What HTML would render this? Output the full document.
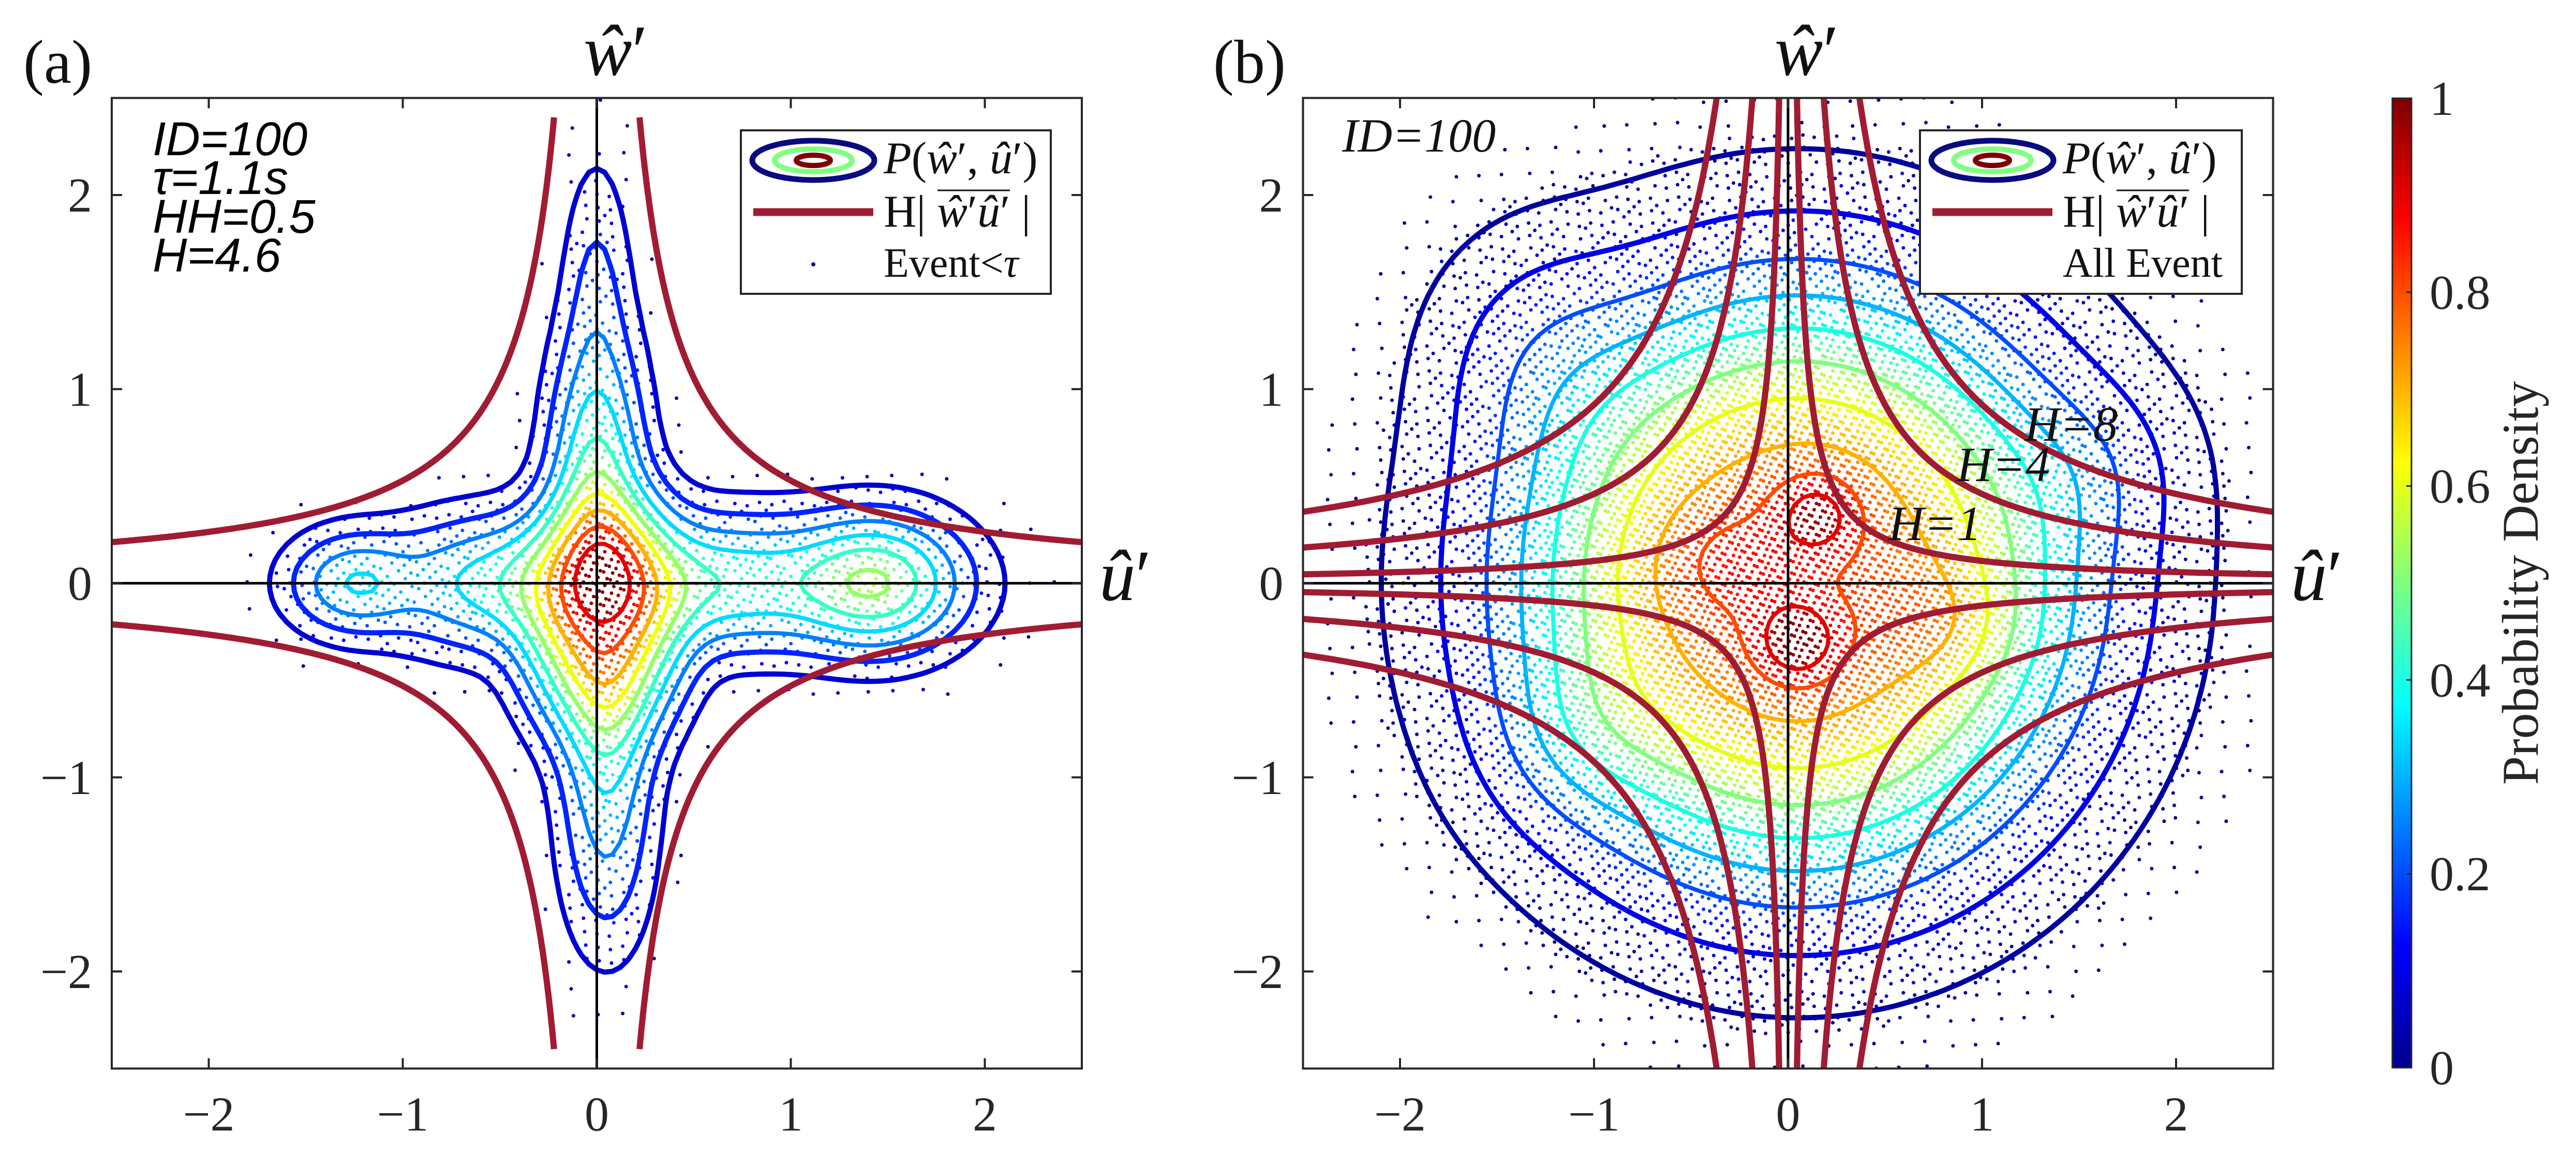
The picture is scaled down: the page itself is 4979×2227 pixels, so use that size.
<!DOCTYPE html>
<html><head><meta charset="utf-8"><style>
html,body{margin:0;padding:0;background:#fff;}
svg{display:block;}
.tk{font-family:"Liberation Serif",serif;font-size:94px;fill:#262626;}
</style></head><body>
<svg id="fig" xmlns="http://www.w3.org/2000/svg" width="4979" height="2227" viewBox="0 0 4979 2227">
<defs>
<clipPath id="clipA"><rect x="216" y="190" width="1875" height="1874"/></clipPath>
<clipPath id="clipB"><rect x="2518" y="190" width="1876" height="1874"/></clipPath>
<linearGradient id="jetGrad" x1="0" y1="1" x2="0" y2="0">
<stop offset="0" stop-color="#00008f"/><stop offset="0.125" stop-color="#0000ff"/><stop offset="0.375" stop-color="#00ffff"/><stop offset="0.625" stop-color="#ffff00"/><stop offset="0.875" stop-color="#ff0000"/><stop offset="1" stop-color="#800000"/>
</linearGradient>
</defs>
<g id="panelA"></g>
<g id="panelB"></g>
<g id="cbar"></g>
</svg>
<script>
// ---- data ----
const ticks = [-2, -1, 0, 1, 2];
const cbTicks = [0, 0.2, 0.4, 0.6, 0.8, 1];
const levelsA = [0.08, 0.16, 0.25, 0.34, 0.43, 0.52, 0.61, 0.7, 0.8, 0.9];
const levelsB = [0.03, 0.1, 0.2, 0.3, 0.4, 0.5, 0.6, 0.7, 0.8, 0.9];
// panel a density components: centre u, centre w, sigma u, sigma w, weight, shape exponent
const compAu = [0.03, 0.6, 1.45, -0.5, -1.25, 0.0, 0.05, 0.0, 0.05, 0.05];
const compAw = [-0.15, 0.0, 0.0, 0.0, 0.0, 0.5, -0.7, 1.5, -1.4, 0.1];
const compAsu = [0.28, 0.55, 0.25, 0.35, 0.2, 0.14, 0.14, 0.1, 0.14, 0.15];
const compAsw = [0.42, 0.2, 0.2, 0.2, 0.15, 0.45, 0.4, 0.4, 0.35, 0.2];
const compAwt = [1.0, 0.45, 0.55, 0.35, 0.3, 0.5, 0.35, 0.1, 0.12, 0.3];
const compAp = [1.3, 1, 1, 1, 1, 1, 1, 1, 1, 1];
const gammaA = 0.6;
// panel b density components
const compBu = [0.05, 0.15, 0.05, -1.3, 1.6, -1.1, -0.3, 0.8];
const compBw = [0.0, 0.35, -0.3, 1.2, 0.6, -0.8, 0.1, -0.2];
const compBsu = [1.15, 0.15, 0.15, 0.35, 0.3, 0.3, 0.25, 0.25];
const compBsw = [1.2, 0.15, 0.15, 0.4, 0.3, 0.3, 0.2, 0.2];
const compBwt = [1.0, 0.25, 0.3, 0.12, 0.08, 0.1, 0.1, 0.08];
const compBp = [1.5, 1, 1, 1, 1, 1, 1, 1];
const gammaB = 1.0;
// hyperbola multipliers H and mean |w'u'|
const meanWU = 0.115;
const hA = [4.6];
const hB = [1, 4, 8];
const hLabels = ["H=1", "H=4", "H=8"];

const NS = "http://www.w3.org/2000/svg";
function mk(tag, attrs, parent){const e=document.createElementNS(NS,tag);for(const k in attrs)e.setAttribute(k,attrs[k]);if(parent)parent.appendChild(e);return e;}
function jet(v){const c=x=>Math.max(0,Math.min(1,x));const r=c(1.5-Math.abs(4*v-3)),g=c(1.5-Math.abs(4*v-2)),b=c(1.5-Math.abs(4*v-1));return `rgb(${Math.round(r*255)},${Math.round(g*255)},${Math.round(b*255)})`;}

function buildPanel(root, x0, clipId, cu, cw, csu, csw, cwt, cp, gam, levels, hs, wLimit, dotMode){
  const unitX=375, unitY=375.25, y0=1127.5;
  const X=u=>x0+u*unitX, Y=w=>y0-w*unitY;
  const left=X(-2.5), right=X(2.5), top=Y(2.5), bot=Y(-2.5);
  const step=0.04, n=126, umin=-2.52;
  const g=[]; let mx=0;
  for(let j=0;j<n;j++){g.push([]);for(let i=0;i<n;i++){const u=umin+i*step,w=umin+j*step;let s=0;for(let k=0;k<cu.length;k++){const du=(u-cu[k])/csu[k],dw=(w-cw[k])/csw[k];s+=cwt[k]*Math.exp(-0.5*Math.pow(du*du+dw*dw,cp[k]));}g[j].push(s);if(s>mx)mx=s;}}
  for(let j=0;j<n;j++)for(let i=0;i<n;i++)g[j][i]=Math.pow(g[j][i]/mx,gam);
  const dens=(u,w)=>{const fi=(u-umin)/step,fj=(w-umin)/step;const i=Math.max(0,Math.min(n-2,Math.floor(fi))),j=Math.max(0,Math.min(n-2,Math.floor(fj)));const tx=fi-i,ty=fj-j;return g[j][i]*(1-tx)*(1-ty)+g[j][i+1]*tx*(1-ty)+g[j+1][i]*(1-tx)*ty+g[j+1][i+1]*tx*ty;};
  const clipG=mk('g',{'clip-path':`url(#${clipId})`},root);
  
  
  const dots=mk('g',{},clipG);
  
  
  const bay=[[0,32,8,40,2,34,10,42],[48,16,56,24,50,18,58,26],[12,44,4,36,14,46,6,38],[60,28,52,20,62,30,54,22],[3,35,11,43,1,33,9,41],[51,19,59,27,49,17,57,25],[15,47,7,39,13,45,5,37],[63,31,55,23,61,29,53,21]];
  const sp = dotMode==='all'?12:13;
  let buf={};
  for(let py=top+4, jj=0; py<bot; py+=sp, jj++){for(let px=left+4, ii=0; px<right; px+=sp, ii++){
    const jx=((ii*7+jj*13)%5-2)*2.2, jy=((ii*11+jj*5)%5-2)*2.2;
    const u=(px+jx-x0)/unitX, w=(y0-(py+jy))/unitY; const d=dens(u,w);
    let p = dotMode==='all' ? (d>0.02?Math.min(1,0.25+1.3*d):(d>0.004?0.07:0)) : (d>0.08?Math.min(1,0.15+1.2*d):(d>0.02?0.05:0));
    const th=(bay[jj%8][ii%8]+0.5)/64;
    if(p>th){const col=jet(Math.min(1,d*1.03));(buf[col]=buf[col]||[]).push(`M${(px+jx).toFixed(1)} ${(py+jy).toFixed(1)}h0`);}
  }}
  for(const col in buf){mk('path',{d:buf[col].join(''),stroke:col,'stroke-width':7,'stroke-linecap':'round',fill:'none'},dots);}
  const cg=mk('g',{fill:'none','stroke-linecap':'round','stroke-linejoin':'round'},clipG);
  
  
  levels.forEach((lv,li)=>{
    let d='';
    const P=(i,j,i2,j2)=>{const v1=g[j][i],v2=g[j2][i2];const t=(lv-v1)/(v2-v1);const u=umin+(i+(i2-i)*t)*step,w=umin+(j+(j2-j)*t)*step;return X(u).toFixed(1)+' '+Y(w).toFixed(1);};
    for(let j=0;j<n-1;j++)for(let i=0;i<n-1;i++){
      const a=g[j][i]>lv?1:0,b=g[j][i+1]>lv?2:0,c=g[j+1][i+1]>lv?4:0,e=g[j+1][i]>lv?8:0;const cs=a|b|c|e;if(cs===0||cs===15)continue;
      const ab=()=>P(i,j,i+1,j),bc=()=>P(i+1,j,i+1,j+1),cd=()=>P(i+1,j+1,i,j+1),da=()=>P(i,j+1,i,j);
      const seg=(p,q)=>{d+='M'+p+'L'+q;};
      switch(cs){case 1:case 14:seg(da(),ab());break;case 2:case 13:seg(ab(),bc());break;case 3:case 12:seg(da(),bc());break;case 4:case 11:seg(bc(),cd());break;case 6:case 9:seg(ab(),cd());break;case 7:case 8:seg(da(),cd());break;case 5:seg(da(),ab());seg(bc(),cd());break;case 10:seg(ab(),bc());seg(cd(),da());break;}
    }
    const p=mk('path',{d:d,stroke:jet(lv),'stroke-width':li<2?10:8},cg);
    
    
  });
  const ax=mk('g',{stroke:'#000','stroke-width':5},clipG);
  
  
  mk('line',{x1:left,y1:Y(0),x2:right,y2:Y(0)},ax);
  mk('line',{x1:X(0),y1:top,x2:X(0),y2:bot},ax);
  const hg=mk('g',{fill:'none',stroke:'#a01c33','stroke-width':12},clipG);
  
  
  hs.forEach(H=>{const c=H*meanWU;[[1,1],[1,-1],[-1,1],[-1,-1]].forEach(([su,sw])=>{
    let pts=[];const u0=c/wLimit;for(let k=0;k<=300;k++){const u=u0*Math.pow(2.6/u0,k/300);pts.push(X(su*u).toFixed(1)+','+Y(sw*c/u).toFixed(1));}
    const pl=mk('polyline',{points:pts.join(' ')},hg);
    
    
  });});
  const bx=mk('g',{stroke:'#262626','stroke-width':4,fill:'none'},root);
  
  
  mk('rect',{x:left,y:top,width:right-left,height:bot-top},bx);
  ticks.forEach(t=>{
    mk('line',{x1:X(t),y1:bot,x2:X(t),y2:bot-20},bx);mk('line',{x1:X(t),y1:top,x2:X(t),y2:top+20},bx);
    mk('line',{x1:left,y1:Y(t),x2:left+20,y2:Y(t)},bx);mk('line',{x1:right,y1:Y(t),x2:right-20,y2:Y(t)},bx);
    const lab=t<0?'\u2212'+(-t):''+t;
    const tx=mk('text',{x:X(t),y:bot+120,'text-anchor':'middle',class:'tk'},root);tx.textContent=lab;
    
    
    const ty=mk('text',{x:left-38,y:Y(t)+32,'text-anchor':'end',class:'tk'},root);ty.textContent=lab;
    
    
  });
}
buildPanel(document.getElementById('panelA'),1153.5,'clipA',compAu,compAw,compAsu,compAsw,compAwt,compAp,gammaA,levelsA,hA,2.4,'tau');
buildPanel(document.getElementById('panelB'),3456,'clipB',compBu,compBw,compBsu,compBsw,compBwt,compBp,gammaB,levelsB,hB,2.6,'all');

const cb=document.getElementById('cbar');
const cbTop=190,cbBot=2064,cbX=4624,cbW=37;
mk('rect',{x:cbX,y:cbTop,width:cbW,height:cbBot-cbTop,fill:'url(#jetGrad)',stroke:'#262626','stroke-width':3},cb);
cbTicks.forEach(t=>{const y=cbBot-t*(cbBot-cbTop);mk('line',{x1:cbX+cbW-10,y1:y,x2:cbX+cbW,y2:y,stroke:'#262626','stroke-width':3},cb);
  const tx=mk('text',{x:cbX+cbW+35,y:y+32,class:'tk'},cb);tx.textContent=''+t;
  
  });
</script>
<script>
const fig=document.getElementById('fig');
const T=(x,y,html,style,name,anchor)=>{const t=document.createElementNS("http://www.w3.org/2000/svg",'text');t.setAttribute('x',x);t.setAttribute('y',y);t.setAttribute('style',style);if(anchor)t.setAttribute('text-anchor',anchor);t.innerHTML=html;fig.appendChild(t);return t;};
const serif='font-family:"Liberation Serif",serif;fill:#111;';
T(45,160,'(a)',serif+'font-size:120px;','panel-a-label');
T(2345,160,'(b)',serif+'font-size:120px;','panel-b-label');
T(1190,145,'<tspan font-style="italic">ŵ</tspan>′',serif+'font-size:140px;','panel-a-y-axis-title','middle');
T(3492,145,'<tspan font-style="italic">ŵ</tspan>′',serif+'font-size:140px;','panel-b-y-axis-title','middle');
T(2175,1160,'<tspan font-style="italic">û</tspan>′',serif+'font-size:140px;','panel-a-x-axis-title','middle');
T(4478,1160,'<tspan font-style="italic">û</tspan>′',serif+'font-size:140px;','panel-b-x-axis-title','middle');
const sansI='font-family:"Liberation Sans",sans-serif;font-style:italic;font-size:92px;fill:#000;';
T(295,300,'ID=100',sansI,'id-annotation');
T(295,375,'τ=1.1s',sansI,'tau-annotation');
T(295,450,'HH=0.5',sansI,'hh-annotation');
T(295,525,'H=4.6',sansI,'h-annotation');
T(2594,293,'ID=100',serif+'font-style:italic;font-size:92px;','panel-b-id-annotation');
const hx=[3650,3782,3913],hy=[1044,930,852];
hLabels.forEach((l,i)=>T(hx[i],hy[i],l,serif+'font-style:italic;font-size:95px;','h-curve-label'));
function legend(x,w,last){
  const g=document.createElementNS("http://www.w3.org/2000/svg",'g');fig.appendChild(g);
  g.innerHTML=`<rect x="${x}" y="252" width="${w}" height="316" fill="#fff" stroke="#262626" stroke-width="4"/>
  <ellipse cx="${x+140}" cy="310" rx="118" ry="38" fill="none" stroke="#0a0a80" stroke-width="11"/>
  <ellipse cx="${x+140}" cy="310" rx="75" ry="22" fill="none" stroke="#80ff80" stroke-width="10"/>
  <ellipse cx="${x+140}" cy="310" rx="33" ry="10" fill="none" stroke="#800000" stroke-width="10"/>
  <line x1="${x+24}" y1="410" x2="${x+256}" y2="410" stroke="#a01c33" stroke-width="15"/>
  ${last==='tau'?`<circle cx="${x+140}" cy="511" r="4" fill="#0000a0"/>`:''}
  <text x="${x+276}" y="335" style='font-family:"Liberation Serif",serif;font-size:88px;fill:#111'><tspan font-style="italic">P</tspan>(<tspan font-style="italic">ŵ</tspan>′, <tspan font-style="italic">û</tspan>′)</text>
  <text x="${x+276}" y="438" style='font-family:"Liberation Serif",serif;font-size:88px;fill:#111'>H| <tspan font-style="italic">ŵ</tspan>′<tspan font-style="italic">û</tspan>′ |</text>
  <line x1="${x+380}" y1="368" x2="${x+520}" y2="368" stroke="#111" stroke-width="3"/>
  <text x="${x+276}" y="535" style='font-family:"Liberation Serif",serif;font-size:80px;fill:#111'>${last==='tau'?'Event&lt;<tspan font-style="italic">τ</tspan>':'All Event'}</text>`;
}
legend(1432,599,'tau');
legend(3711,622,'all');
const cl=T(0,0,'Probability Density','font-family:"Liberation Serif",serif;font-size:100px;fill:#262626;','colorbar-title','middle');
cl.setAttribute('transform','translate(4905,1127) rotate(-90)');
</script>
</body></html>
